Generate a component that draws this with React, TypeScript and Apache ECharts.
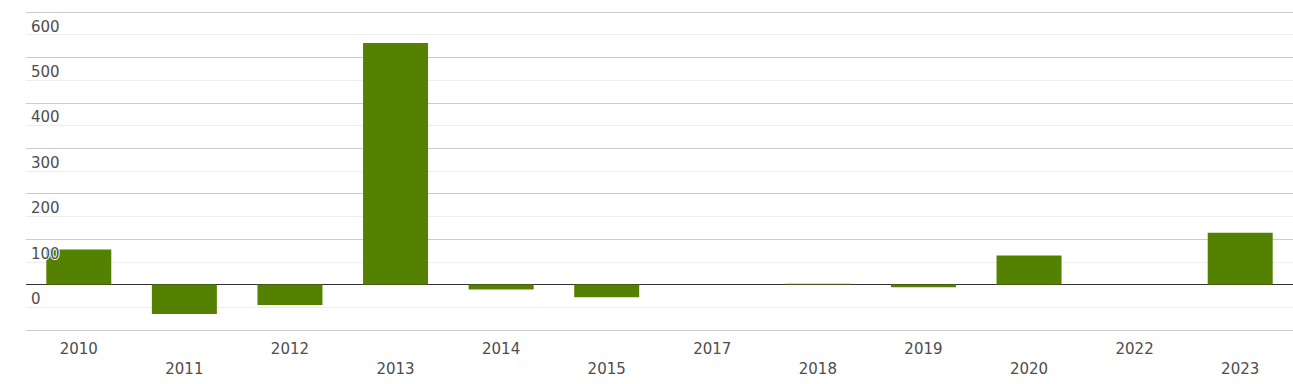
import React, { useEffect, useRef } from "react";
import * as echarts from "echarts";

const categories = ["2010", "2011", "2012", "2013", "2014", "2015", "2017", "2018", "2019", "2020", "2022", "2023"];
const values = [77, -65, -45, 532, -11, -28, 0, 2, -6, 64, 0, 114];
const yMin = -100;
const yMax = 600;
const yInterval = 100;

export default function App() {
  const ref = useRef<HTMLDivElement>(null);
  useEffect(() => {
    if (!ref.current) return;
    const chart = echarts.init(ref.current, undefined, { renderer: "svg" });
    chart.setOption({
      animation: false,
      grid: { left: 26, right: 0, top: 12, bottom: 54, containLabel: false },
      xAxis: {
        type: "category",
        data: categories,
        axisLine: { show: false },
        axisTick: { show: false },
        axisLabel: {
          interval: 0,
          margin: 9,
          color: "#4d4d4d",
          fontSize: 15,
          fontFamily: "DejaVu Sans",
          lineHeight: 20,
          formatter: (v: string, i: number) => (i % 2 === 1 ? "\n" + v : v),
        },
      },
      yAxis: [
        {
          type: "value",
          min: yMin,
          max: yMax,
          interval: yInterval,
          axisLine: { show: false },
          axisTick: { show: false },
          axisLabel: { show: false },
          splitLine: {
            lineStyle: {
              color: ["#cccccc", "#333333", "#cccccc", "#cccccc", "#cccccc", "#cccccc", "#cccccc", "#cccccc"],
              width: 1,
            },
          },
          minorTick: { show: false, splitNumber: 2 },
          minorSplitLine: { show: true, lineStyle: { color: "#eeeeee", width: 1 } },
          z: 0,
        },
        {
          type: "value",
          position: "left",
          min: yMin,
          max: yMax,
          interval: yInterval,
          axisLine: { show: false },
          axisTick: { show: false },
          splitLine: { show: false },
          axisLabel: {
            inside: true,
            margin: 5,
            verticalAlign: "top",
            padding: [7, 0, 0, 0],
            color: "#4d4d4d",
            fontSize: 15,
            fontFamily: "DejaVu Sans",
            textBorderColor: "#fff",
            textBorderWidth: 2,
            formatter: (v: number) => (v < 0 ? "" : String(v)),
          },
          z: 10,
        },
      ],
      series: [
        {
          type: "bar",
          data: values,
          yAxisIndex: 0,
          barWidth: 65,
          itemStyle: { color: "#548200" },
          z: 2,
        },
      ],
    });
    return () => chart.dispose();
  }, []);
  return <div ref={ref} style={{ width: 1293, height: 384, position: "absolute", left: 0, top: 0 }} />;
}
